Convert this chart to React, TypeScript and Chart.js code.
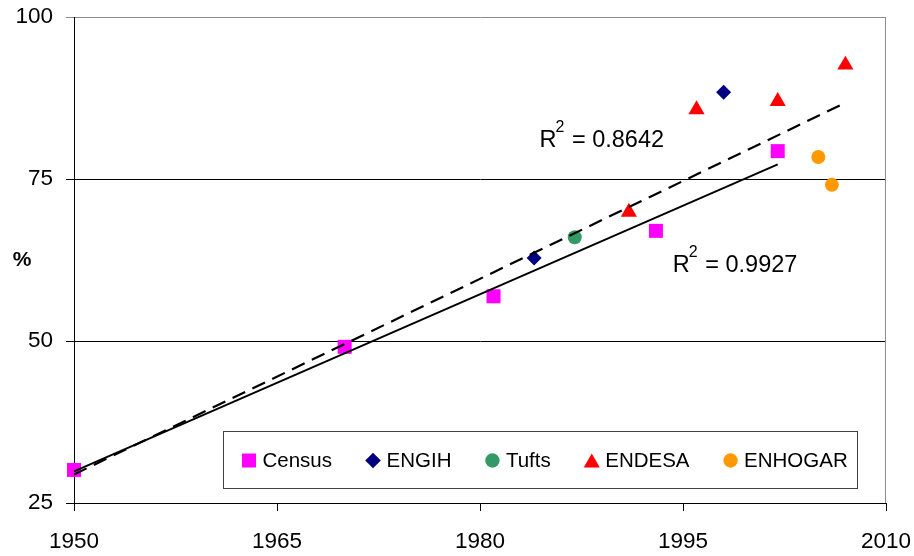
import React, { useEffect, useRef } from 'react';
import { Chart, registerables } from 'chart.js';

Chart.register(...registerables);

const FONT = '"Liberation Sans", Arial, Helvetica, sans-serif';

// ---- data ----
const censusYears = [1950, 1970, 1981, 1993, 2002];
const censusValues = [30.1, 49.1, 56.9, 67.0, 79.3];
const engihYears = [1984, 1998];
const engihValues = [62.8, 88.4];
const tuftsYears = [1987];
const tuftsValues = [66.0];
const endesaYears = [1991, 1996, 2002, 2007];
const endesaValues = [69.9, 85.7, 87.0, 92.6];
const enhogarYears = [2005, 2006];
const enhogarValues = [78.4, 74.1];

const xTicks = [1950, 1965, 1980, 1995, 2010];
const yTicks = [25, 50, 75, 100];

const r2Census = '0.9927';
const r2All = '0.8642';
// label anchors in data units (year, %)
const r2AllAnchor = [1984.4, 80.0];
const r2CensusAnchor = [1994.25, 60.7];

const seriesNames = ['Census', 'ENGIH', 'Tufts', 'ENDESA', 'ENHOGAR'];
const seriesColors = ['#FF00FF', '#000080', '#339966', '#FF0000', '#FF9900'];
const seriesStyles = ['rect', 'rectRot', 'circle', 'triangle', 'circle'];
const seriesRadius = [9.9, 7.5, 7, 9.3, 7];

type P = { x: number; y: number };
const zip = (xs: number[], ys: number[]): P[] => xs.map((x, i) => ({ x, y: ys[i] }));

function linearFit(pts: P[]): P[] {
  const n = pts.length;
  const mx = pts.reduce((s, p) => s + p.x, 0) / n;
  const my = pts.reduce((s, p) => s + p.y, 0) / n;
  let sxy = 0;
  let sxx = 0;
  pts.forEach((p) => {
    sxy += (p.x - mx) * (p.y - my);
    sxx += (p.x - mx) * (p.x - mx);
  });
  const b = sxy / sxx;
  const a = my - b * mx;
  const x0 = Math.min(...pts.map((p) => p.x));
  const x1 = Math.max(...pts.map((p) => p.x));
  return [
    { x: x0, y: a + b * x0 },
    { x: x1, y: a + b * x1 },
  ];
}

function drawMarker(ctx: CanvasRenderingContext2D, style: string, x: number, y: number, r: number, color: string) {
  ctx.save();
  ctx.fillStyle = color;
  ctx.beginPath();
  if (style === 'rect') {
    const s = Math.SQRT1_2 * r;
    ctx.rect(x - s, y - s, 2 * s, 2 * s);
  } else if (style === 'rectRot') {
    ctx.moveTo(x - r, y);
    ctx.lineTo(x, y - r);
    ctx.lineTo(x + r, y);
    ctx.lineTo(x, y + r);
    ctx.closePath();
  } else if (style === 'triangle') {
    const h = 1.5 * r;
    const w = Math.sqrt(3) * r;
    ctx.moveTo(x, y - h / 2);
    ctx.lineTo(x + w / 2, y + h / 2);
    ctx.lineTo(x - w / 2, y + h / 2);
    ctx.closePath();
  } else {
    ctx.arc(x, y, r, 0, Math.PI * 2);
  }
  ctx.fill();
  ctx.restore();
}

function drawR2(ctx: CanvasRenderingContext2D, x: number, y: number, value: string) {
  ctx.save();
  ctx.fillStyle = '#000';
  ctx.textAlign = 'left';
  ctx.textBaseline = 'alphabetic';
  ctx.font = `23.5px ${FONT}`;
  ctx.fillText('R', x, y);
  let w = ctx.measureText('R').width;
  ctx.font = `16px ${FONT}`;
  ctx.fillText('2', x + w - 1, y - 15);
  w += ctx.measureText('2').width;
  ctx.font = `23.5px ${FONT}`;
  ctx.fillText(' = ' + value, x + w, y);
  ctx.restore();
}

const overlayPlugin = {
  id: 'overlay',
  beforeDatasetsDraw(chart: any) {
    const { ctx, chartArea } = chart;
    ctx.save();
    ctx.strokeStyle = '#8c8c8c';
    ctx.lineWidth = 1;
    const xr = Math.round(chartArea.right) - 0.5;
    ctx.beginPath();
    ctx.moveTo(xr, chartArea.top);
    ctx.lineTo(xr, chartArea.bottom);
    ctx.stroke();
    ctx.restore();
  },
  afterDraw(chart: any) {
    const { ctx, chartArea, scales } = chart;
    const xs = scales.x;
    const ys = scales.y;

    // y axis title
    ctx.save();
    ctx.fillStyle = '#000';
    ctx.font = `bold 21px ${FONT}`;
    ctx.textAlign = 'center';
    ctx.textBaseline = 'middle';
    ctx.fillText('%', 22, (chartArea.top + chartArea.bottom) / 2);
    ctx.restore();

    // R² labels
    drawR2(ctx, xs.getPixelForValue(r2AllAnchor[0]), ys.getPixelForValue(r2AllAnchor[1]), r2All);
    drawR2(ctx, xs.getPixelForValue(r2CensusAnchor[0]), ys.getPixelForValue(r2CensusAnchor[1]), r2Census);

    // legend box
    const bw = 634;
    const bh = 57;
    const bx = Math.round(chartArea.right - 29 - bw) + 0.5;
    const by = Math.round(chartArea.bottom - 15 - bh) + 0.5;
    ctx.save();
    ctx.fillStyle = '#fff';
    ctx.fillRect(bx, by, bw, bh);
    ctx.strokeStyle = '#404040';
    ctx.lineWidth = 1;
    ctx.strokeRect(bx, by, bw, bh);
    ctx.font = `20.5px ${FONT}`;
    ctx.textAlign = 'left';
    ctx.textBaseline = 'middle';
    const cy = by + 29;
    let x = bx + 18;
    seriesNames.forEach((name, i) => {
      const style = seriesStyles[i];
      const r = style === 'rect' ? 9.9 : style === 'rectRot' ? 7.8 : style === 'triangle' ? 9.3 : 7.2;
      drawMarker(ctx, style, x + 7.5, cy, r, seriesColors[i]);
      ctx.fillStyle = '#000';
      ctx.fillText(name, x + 21, cy + 1);
      x = x + 21 + ctx.measureText(name).width + 33.5;
    });
    ctx.restore();
  },
};

export default function App() {
  const canvasRef = useRef<HTMLCanvasElement | null>(null);

  useEffect(() => {
    document.body.style.margin = '0';
    const canvas = canvasRef.current;
    if (!canvas) return;

    const seriesData = [
      zip(censusYears, censusValues),
      zip(engihYears, engihValues),
      zip(tuftsYears, tuftsValues),
      zip(endesaYears, endesaValues),
      zip(enhogarYears, enhogarValues),
    ];
    const allPoints = seriesData.flat();
    const censusTrend = linearFit(seriesData[0]);
    const allTrend = linearFit(allPoints);

    const datasets: any[] = [
      {
        label: 'Census trend',
        data: censusTrend,
        showLine: true,
        borderColor: '#000',
        borderWidth: 2,
        pointRadius: 0,
        pointHoverRadius: 0,
        order: 0,
        clip: false,
      },
      {
        label: 'All trend',
        data: allTrend,
        showLine: true,
        borderColor: '#000',
        borderWidth: 2.2,
        borderDash: [14, 8],
        pointRadius: 0,
        pointHoverRadius: 0,
        order: 0,
        clip: false,
      },
      ...seriesData.map((d, i) => ({
        label: seriesNames[i],
        data: d,
        pointStyle: seriesStyles[i],
        pointRadius: seriesRadius[i],
        pointHoverRadius: seriesRadius[i],
        backgroundColor: seriesColors[i],
        borderColor: seriesColors[i],
        borderWidth: 0,
        order: 1,
        clip: false,
      })),
    ];

    const tickFont = { family: FONT, size: 22.5 };

    const chart = new Chart(canvas, {
      type: 'scatter',
      data: { datasets },
      options: {
        animation: false,
        responsive: false,
        maintainAspectRatio: false,
        devicePixelRatio: 1,
        layout: { padding: { top: 17, right: 28, left: 0, bottom: 0 } },
        plugins: {
          legend: { display: false },
          tooltip: { enabled: false },
          title: { display: false },
        },
        scales: {
          x: {
            type: 'linear',
            min: 1950,
            max: 2010,
            afterBuildTicks: (s: any) => {
              s.ticks = xTicks.map((v) => ({ value: v }));
            },
            afterFit: (s: any) => {
              s.height = 53;
              s.paddingLeft = 0;
              s.paddingRight = 0;
            },
            ticks: {
              font: tickFont,
              color: '#000',
              padding: 17,
              maxRotation: 0,
              autoSkip: false,
              callback: (v: any) => String(v),
            },
            grid: {
              drawOnChartArea: false,
              drawTicks: true,
              tickLength: 8,
              color: '#000',
            },
            border: { color: '#000', width: 1 },
          },
          y: {
            type: 'linear',
            min: 25,
            max: 100,
            afterBuildTicks: (s: any) => {
              s.ticks = yTicks.map((v) => ({ value: v }));
            },
            afterFit: (s: any) => {
              s.width = 74;
              s.paddingTop = 0;
              s.paddingBottom = 0;
            },
            ticks: {
              font: tickFont,
              color: '#000',
              padding: 13,
              callback: (v: any) => String(v),
            },
            grid: {
              drawTicks: true,
              tickLength: 8,
              color: (c: any) => (c.tick && c.tick.value === 100 ? '#8c8c8c' : '#000'),
            },
            border: { color: '#000', width: 1 },
          },
        },
      },
      plugins: [overlayPlugin],
    });

    return () => {
      chart.destroy();
    };
  }, []);

  return (
    <div style={{ width: 914, height: 556, background: '#fff' }}>
      <canvas ref={canvasRef} width={914} height={556} style={{ display: 'block' }} />
    </div>
  );
}
